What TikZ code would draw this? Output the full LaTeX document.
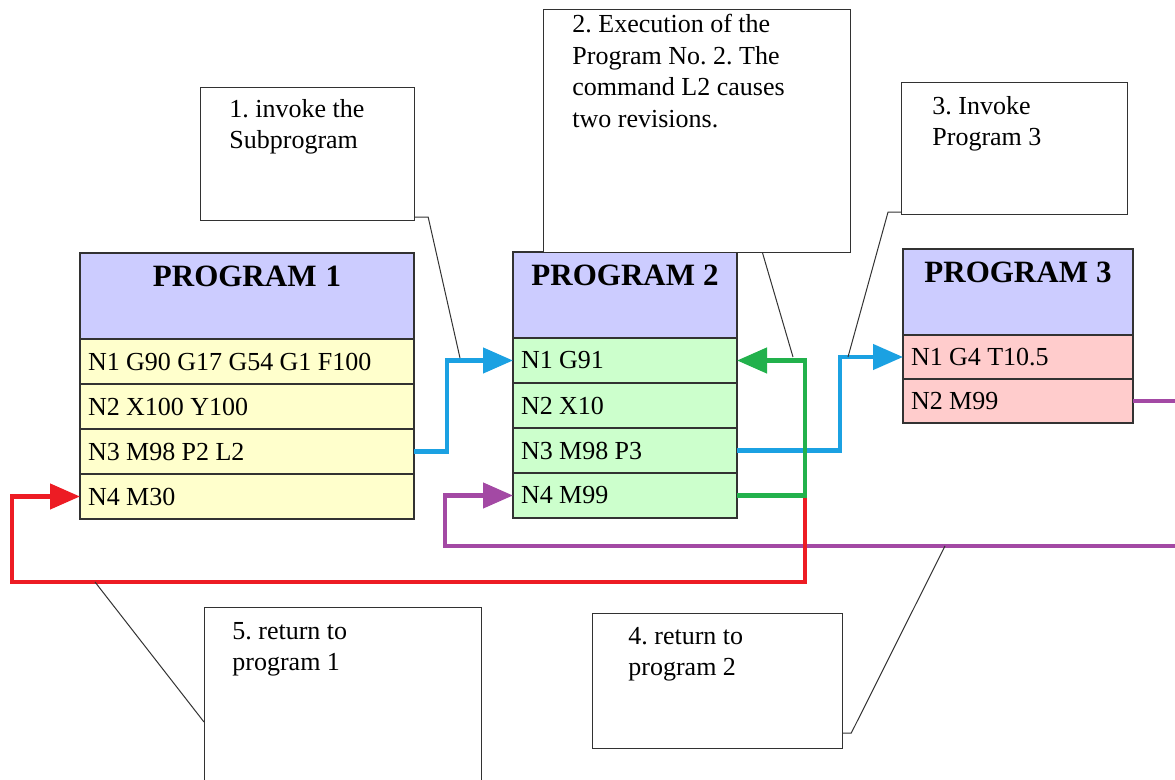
\documentclass[tikz,border=0pt]{standalone}
\usepackage{fontspec}
\setmainfont{Liberation Serif}
\usetikzlibrary{arrows.meta}
\definecolor{hdr}{RGB}{204,204,255}
\definecolor{yel}{RGB}{255,255,204}
\definecolor{grn}{RGB}{204,255,204}
\definecolor{pnk}{RGB}{255,204,204}
\definecolor{boxline}{RGB}{50,50,50}
\definecolor{blueA}{RGB}{27,161,226}
\definecolor{greenA}{RGB}{34,177,76}
\definecolor{redA}{RGB}{237,28,36}
\definecolor{purpleA}{RGB}{163,73,164}
\frenchspacing
\begin{document}
\begin{tikzpicture}[x=0.5pt,y=-0.5pt,
  box/.style={draw=boxline,line width=0.75pt,inner ysep=0pt,inner xsep=4pt,outer sep=0pt,anchor=north west},
  hdrbox/.style={box,fill=hdr,align=center,font=\fontsize{15.5}{18}\selectfont\bfseries,text height=17pt,text depth=26pt,
    execute at begin node={\spaceskip=3.9pt plus 0.6pt minus 0.3pt\relax}},
  rowbox/.style={box,align=left,font=\fontsize{13}{15}\selectfont,minimum height=22.5pt,
    execute at begin node={\spaceskip=3.2pt plus 0.6pt minus 0.3pt\relax}},
  p1w/.style={text width=159pt},
  p2w/.style={text width=104pt},
  p3w/.style={text width=107pt},
  callbox/.style={draw=boxline,line width=0.6pt,fill=white,anchor=north west,inner sep=0pt},
  calltext/.style={anchor=north west,inner sep=0pt,align=left,font=\fontsize{13}{15.5}\selectfont},
  lead/.style={draw=black!80,line width=0.5pt},
  flow/.style={line width=2.2pt,-{Triangle[length=15pt,width=12.5pt]}},
]
\useasboundingbox (0,0) rectangle (1175,780);
\fill[white] (0,0) rectangle (1175,780);
\clip (0,0) rectangle (1175,780);

% Program 1
\node[hdrbox,p1w] (p1h) at (80,253) {PROGRAM 1};
\node[rowbox,p1w,fill=yel] (p1r1) at (80,339) {N1 G90 G17 G54 G1 F100};
\node[rowbox,p1w,fill=yel] (p1r2) at (80,384) {N2 X100 Y100};
\node[rowbox,p1w,fill=yel] (p1r3) at (80,429) {N3 M98 P2 L2};
\node[rowbox,p1w,fill=yel] (p1r4) at (80,474) {N4 M30};

% Program 2
\node[hdrbox,p2w] (p2h) at (513,252) {PROGRAM 2};
\node[rowbox,p2w,fill=grn] (p2r1) at (513,338) {N1 G91};
\node[rowbox,p2w,fill=grn] (p2r2) at (513,383) {N2 X10};
\node[rowbox,p2w,fill=grn] (p2r3) at (513,428) {N3 M98 P3};
\node[rowbox,p2w,fill=grn] (p2r4) at (513,473) {N4 M99};

% Program 3
\node[hdrbox,p3w] (p3h) at (903,249) {PROGRAM 3};
\node[rowbox,p3w,fill=pnk,minimum height=22pt] (p3r1) at (903,335) {N1 G4 T10.5};
\node[rowbox,p3w,fill=pnk,minimum height=22pt] (p3r2) at (903,379) {N2 M99};

% flow coordinates
\coordinate (rl) at (12,582);
\coordinate (pr) at (1190,546);
\coordinate (pl) at (445,546);

% flows
\draw[flow,blueA] (p1r3.east) -- ++(33,0) |- (p2r1.west);
\draw[flow,blueA] (p2r3.east) -- ++(103,0) |- (p3r1.west);
\draw[flow,purpleA] (p3r2.east) -| (pr) -- (pl) |- (p2r4.west);
\path (p2r4.east) -- ++(68,0) coordinate (gc);
\draw[flow,redA] (gc) |- (rl) |- (p1r4.west);
\draw[flow,greenA] (p2r4.east) -- (gc) |- (p2r1.east);

% callouts
\node[callbox,minimum width=107pt,minimum height=66.5pt] (c1) at (200,87) {};
\node[calltext] (t1) at (229,99) {1. invoke the\\Subprogram};

\node[callbox,minimum width=153.5pt,minimum height=121.5pt] (c2) at (543,9) {};
\node[calltext,font=\fontsize{13}{15.8}\selectfont] (t2) at (572,14) {2. Execution of the\\Program No. 2. The\\command L2 causes\\two revisions.};

\node[callbox,minimum width=113pt,minimum height=66pt] (c3) at (901,82) {};
\node[calltext] (t3) at (932,96) {3. Invoke\\Program 3};

\node[callbox,minimum width=125pt,minimum height=67.5pt] (c4) at (592,613) {};
\node[calltext] (t4) at (628,627) {4. return to\\program 2};

\node[callbox,minimum width=138.5pt,minimum height=100pt] (c5) at (204,607) {};
\node[calltext] (t5) at (232,622) {5. return to\\program 1};

% leader lines
\coordinate (l1) at (460,358);
\coordinate (l2) at (793,357);
\coordinate (l3) at (848,357);
\coordinate (l4) at (945,546);
\coordinate (l5) at (95,582);
\draw[lead] ([yshift=2pt]c1.south east) -- ++(13,0) -- (l1);
\draw[lead] ([xshift=32.75pt]c2.south) -- (l2);
\draw[lead] ([yshift=1.5pt]c3.south west) -- ++(-13,0) -- (l3);
\draw[lead] ([yshift=8pt]c4.south east) -- ++(8,0) -- (l4);
\draw[lead] ([yshift=-57.5pt]c5.north west) -- (l5);
\end{tikzpicture}
\end{document}
